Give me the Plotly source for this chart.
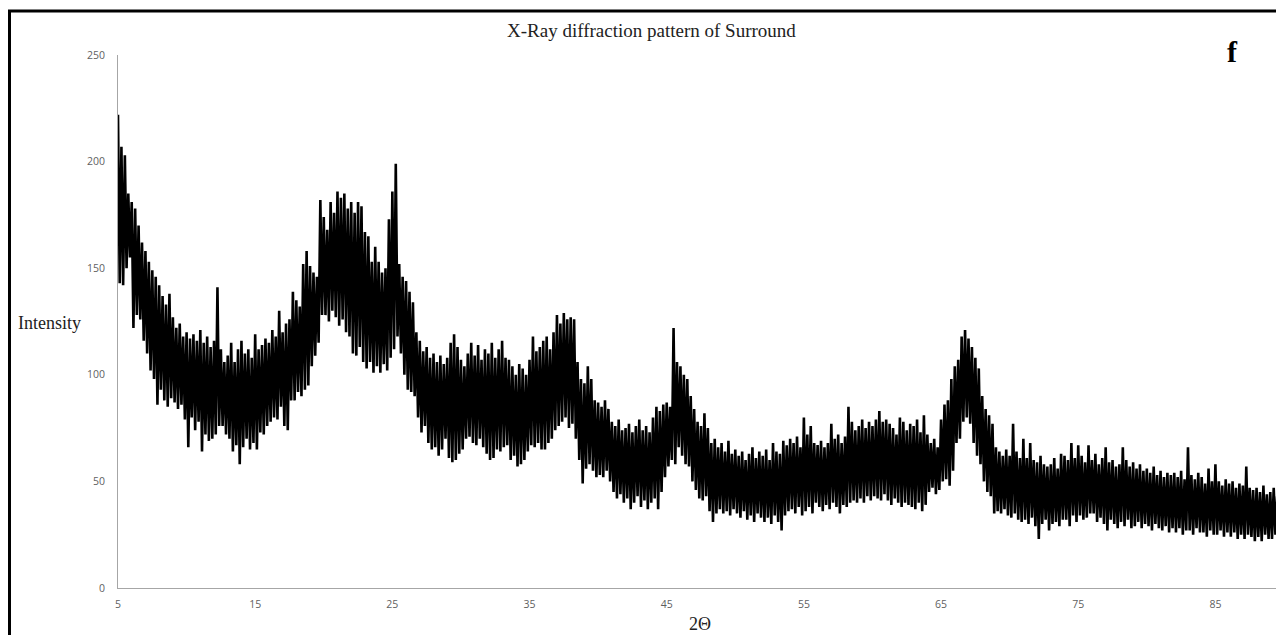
import plotly.graph_objects as go

# 2-theta scan grid (degrees), 0.25 deg spacing from 5 to 90
theta_start = 5.0
theta_step = 0.25

# Upper and lower edges of the noisy intensity band
intensity_upper = [
    222, 207, 203, 185,  181, 178, 170, 162,  158, 153, 149, 146,  142, 137, 133, 138,   # 5-8
    127, 122, 124, 118,  120, 117, 119, 116,  121, 115, 118, 113,  116, 141, 112, 106,   # 9-12
    109, 115, 106, 112,  116, 110, 112, 108,  119, 112, 114, 117,  115, 121, 118, 130,   # 13-16
    120, 124, 126, 139,  135, 132, 152, 158,  151, 148, 146, 182,  174, 168, 181, 176,   # 17-20
    186, 183, 185, 178,  181, 176, 181, 179,  167, 165, 153, 160,  153, 148, 150, 173,   # 21-24
    186, 199, 152, 146,  144, 139, 134, 120,  116, 111, 113, 108,  110, 106, 109, 105,   # 25-28
    108, 115, 119, 113,  107, 104, 110, 115,  109, 114, 107, 112,  110, 115, 108, 112,   # 29-32
    116, 108, 107, 104,  100, 105, 103, 100,  107, 118, 111, 113,  116, 118, 112, 120,   # 33-36
    128, 124, 129, 126,  127, 126, 106, 98,   96, 104, 98, 88,    87, 85, 88, 84,       # 37-40
    78, 76, 79, 74,      75, 77, 73, 76,      79, 74, 76, 73,      80, 85, 83, 86,       # 41-44
    87, 85, 122, 106,    104, 100, 98, 90,    84, 78, 76, 82,      75, 68, 70, 66,       # 45-48
    68, 64, 69, 63,      65, 62, 64, 60,      63, 66, 61, 64,      62, 65, 60, 68,       # 49-52
    64, 63, 69, 67,      70, 68, 71, 66,      80, 72, 76, 68,      67, 69, 66, 68,       # 53-56
    77, 70, 72, 68,      71, 85, 78, 74,      76, 79, 75, 78,      76, 79, 83, 78,       # 57-60
    79, 77, 75, 72,      80, 78, 74, 77,      76, 79, 73, 81,      72, 68, 70, 66,       # 61-64
    79, 86, 88, 98,      104, 107, 118, 121,  117, 113, 108, 103,  90, 84, 81, 77,       # 65-68
    66, 64, 62, 65,      62, 77, 64, 61,      70, 61, 68, 60,      59, 62, 58, 57,       # 69-72
    58, 61, 56, 63,      62, 60, 68, 61,      67, 62, 59, 67,      60, 63, 58, 61,       # 73-76
    66, 59, 60, 57,      58, 66, 60, 57,      59, 56, 58, 55,      56, 54, 57, 53,       # 77-80
    55, 52, 54, 53,      54, 52, 55, 51,      66, 53, 51, 54,      52, 49, 56, 50,       # 81-84
    58, 50, 48, 51,      49, 50, 47, 49,      48, 57, 47, 46,      47, 45, 48, 44,       # 85-88
    45, 47, 43, 46,      44,                                                              # 89-90
]

intensity_lower = [
    143, 142, 150, 155,  122, 128, 126, 116,  110, 102, 98, 86,    93, 88, 85, 89,       # 5-8
    87, 84, 86, 79,      66, 80, 74, 78,      64, 72, 69, 70,      72, 76, 76, 72,       # 9-12
    70, 64, 67, 58,      66, 70, 65, 68,      65, 73, 72, 76,      78, 80, 79, 85,       # 13-16
    76, 74, 88, 88,      92, 90, 93, 95,      104, 109, 115, 128,  128, 125, 130, 127,   # 17-20
    123, 126, 120, 118,  110, 109, 113, 106,  103, 106, 101, 104,  101, 105, 102, 108,   # 21-24
    112, 118, 110, 100,  93, 92, 90, 80,      73, 76, 68, 65,      66, 62, 65, 70,       # 25-28
    61, 59, 60, 63,      65, 70, 71, 68,      67, 70, 66, 63,      60, 61, 65, 64,       # 29-32
    66, 67, 60, 62,      57, 58, 60, 64,      67, 66, 68, 65,      65, 68, 70, 74,       # 33-36
    76, 78, 80, 75,      77, 70, 60, 49,      56, 58, 55, 52,      53, 52, 55, 50,       # 37-40
    45, 42, 44, 40,      42, 37, 40, 43,      38, 41, 37, 40,      42, 37, 45, 52,       # 41-44
    57, 60, 58, 66,      62, 58, 57, 50,      46, 42, 41, 43,      36, 31, 35, 37,       # 45-48
    35, 36, 34, 37,      35, 33, 36, 32,      34, 31, 35, 33,      31, 33, 30, 34,       # 49-52
    31, 27, 34, 36,      37, 35, 38, 34,      36, 38, 35, 40,      38, 36, 39, 37,       # 53-56
    40, 38, 35, 39,      38, 40, 41, 40,      42, 40, 43, 41,      43, 42, 41, 44,       # 57-60
    41, 39, 42, 40,      38, 40, 39, 38,      37, 40, 36, 39,      45, 47, 44, 46,       # 61-64
    50, 51, 48, 55,      68, 70, 78, 80,      77, 68, 62, 58,      50, 45, 43, 35,       # 65-68
    36, 35, 37, 34,      33, 35, 32, 31,      32, 30, 33, 29,      23, 30, 32, 27,       # 69-72
    30, 31, 29, 32,      32, 29, 34, 31,      34, 32, 33, 35,      35, 31, 33, 30,       # 73-76
    27, 32, 30, 28,      31, 29, 32, 28,      29, 31, 28, 30,      29, 27, 30, 28,       # 77-80
    27, 29, 26, 28,      26, 28, 25, 27,      27, 25, 28, 26,      26, 24, 27, 25,       # 81-84
    25, 27, 24, 26,      24, 26, 23, 25,      23, 25, 24, 22,      24, 22, 25, 23,       # 85-88
    23, 25, 22, 24,      25,                                                              # 89-90
]

x_ticks = [5, 15, 25, 35, 45, 55, 65, 75, 85]
y_ticks = [0, 50, 100, 150, 200, 250]

# Interleave the band edges into one scan trace (peak then trough per step)
xs, ys = [], []
for i, (hi, lo) in enumerate(zip(intensity_upper, intensity_lower)):
    t = theta_start + theta_step * i
    xs += [t, t + theta_step / 2]
    ys += [hi, lo]

# The page body has an 8px margin; size the figure so it fills the window
OFF = 8
W, H = 1284 - OFF, 635 - OFF
L, R, T, B = 118 - OFF, 0, 55 - OFF, 635 - 588
PW, PH = W - L - R, H - T - B


def px(x):  # screen pixel -> paper x
    return (x - OFF - L) / PW


def py(y):  # screen pixel -> paper y
    return (H - B - (y - OFF)) / PH


fig = go.Figure()
fig.add_trace(go.Scatter(x=xs, y=ys, mode="lines",
                         line=dict(color="black", width=2.6),
                         showlegend=False, hoverinfo="skip"))

axis_gray = "#a6a6a6"
tick_font = dict(family="Open Sans", size=10.5, color="#5f5f5f")
serif = "Liberation Serif"


def label(text, x, y, size, color="#222222"):
    return dict(text=text, x=px(x), y=py(y), xref="paper", yref="paper",
                xanchor="center", yanchor="middle", showarrow=False,
                font=dict(family=serif, size=size, color=color))


fig.update_layout(
    width=W, height=H,
    margin=dict(l=L, r=R, t=T, b=B),
    paper_bgcolor="white", plot_bgcolor="white",
    xaxis=dict(range=[5, 90], tickvals=x_ticks, ticktext=[str(v) for v in x_ticks],
               showgrid=False, zeroline=False, showline=True, linecolor=axis_gray,
               linewidth=1, ticks="", tickfont=tick_font, ticklabelstandoff=6),
    yaxis=dict(range=[0, 250], tickvals=y_ticks, ticktext=[str(v) for v in y_ticks],
               showgrid=False, zeroline=False, showline=True, linecolor=axis_gray,
               linewidth=1, ticks="", tickfont=tick_font, ticklabelstandoff=10),
    annotations=[
        label("X-Ray diffraction pattern of Surround", 651, 30, 19),
        label("Intensity", 49, 323, 18),
        label("2\u0398", 700, 624, 18),
        label("<b>f</b>", 1232, 51, 30, "black"),
    ],
    shapes=[
        dict(type="rect", xref="paper", yref="paper",
             x0=px(9.5), x1=px(1300), y0=py(660), y1=py(11),
             line=dict(color="black", width=3), fillcolor="rgba(0,0,0,0)", layer="above"),
    ],
)

fig.write_html("out.html")
